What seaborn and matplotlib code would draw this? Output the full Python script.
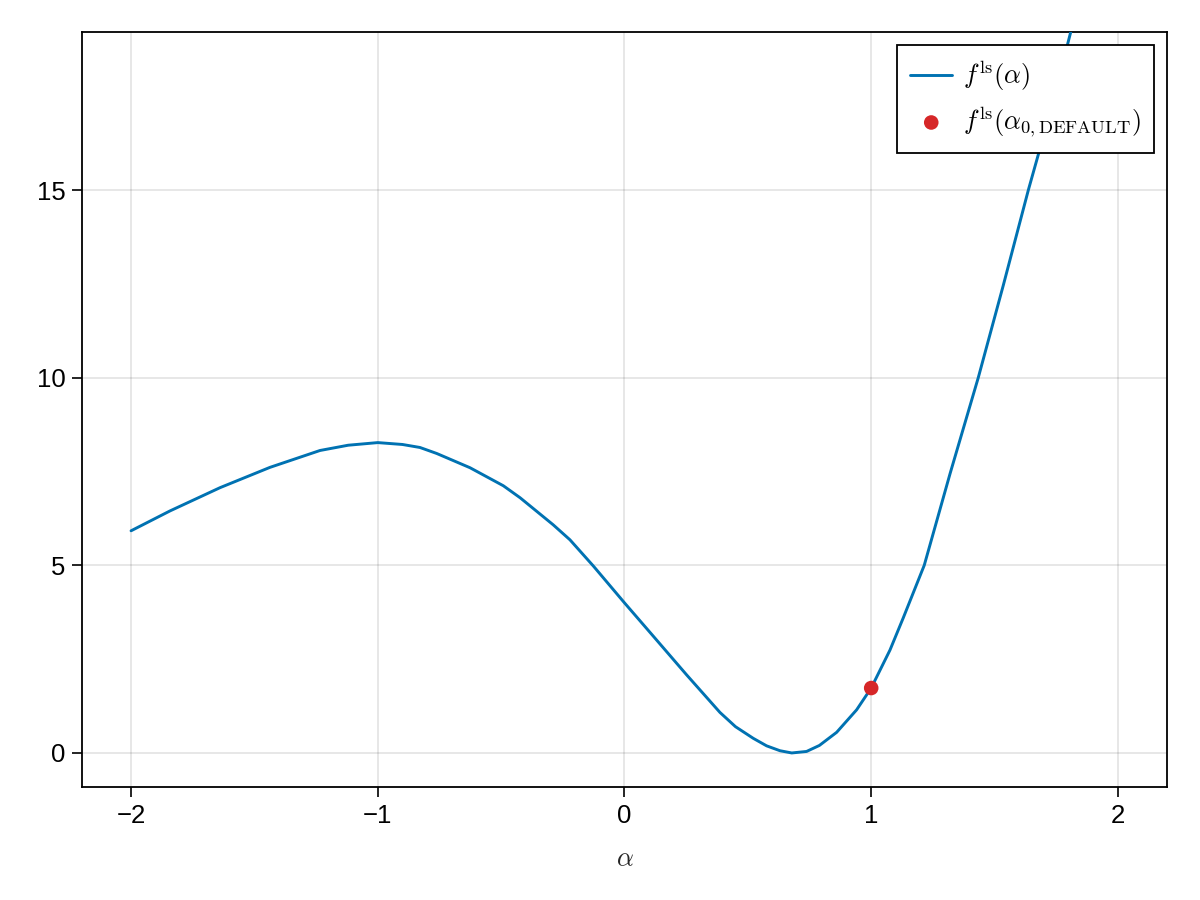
import matplotlib
matplotlib.use("Agg")
import matplotlib.pyplot as plt
import seaborn as sns
import pandas as pd

# values
alpha = [-2.0, -1.842, -1.639, -1.437, -1.234, -1.12, -1.0, -0.9, -0.829,
         -0.761, -0.626, -0.491, -0.423, -0.289, -0.221, -0.126, 0.0, 0.117,
         0.252, 0.387, 0.45, 0.522, 0.576, 0.63, 0.678, 0.738, 0.79, 0.86,
         0.941, 1.0, 1.076, 1.13, 1.215, 1.32, 1.434, 1.535, 1.637, 1.684,
         1.75, 1.82]
f_ls = [5.92, 6.45, 7.07, 7.61, 8.06, 8.20, 8.27, 8.22, 8.14,
        7.98, 7.60, 7.12, 6.80, 6.08, 5.68, 4.98, 4.0, 3.11,
        2.08, 1.08, 0.70, 0.39, 0.19, 0.06, 0.0, 0.04, 0.20, 0.55,
        1.15, 1.73, 2.74, 3.6, 5.0, 7.45, 10.0, 12.45, 15.0, 16.1,
        17.7, 19.5]
alpha0 = [1.0]
f_alpha0 = [1.73]

xticks = [-2, -1, 0, 1, 2]
yticks = [0, 5, 10, 15]

df = pd.DataFrame({"alpha": alpha, "f": f_ls})
df0 = pd.DataFrame({"alpha": alpha0, "f": f_alpha0})

sns.set_style("white")
plt.rcParams["font.family"] = ["Liberation Sans", "DejaVu Sans"]
plt.rcParams["mathtext.fontset"] = "cm"
plt.rcParams["text.color"] = "black"
plt.rcParams["xtick.color"] = "black"
plt.rcParams["ytick.color"] = "black"

fig = plt.figure(figsize=(12, 9), dpi=100)
ax = fig.add_axes([0.0683, 0.1256, 0.9042, 0.8388])

sns.lineplot(data=df, x="alpha", y="f", ax=ax, color="#0072b2", linewidth=2.1,
             label=r"$f^{\mathrm{ls}}(\alpha)$", zorder=3)
sns.scatterplot(data=df0, x="alpha", y="f", ax=ax, color="#d62728", s=110,
                edgecolor="none", label=r"$f^{\mathrm{ls}}(\alpha_{0,\mathrm{DEFAULT}})$",
                zorder=4)

ax.set_xlim(-2.199, 2.199)
ax.set_ylim(-0.906, 19.21)
ax.set_xticks(xticks)
ax.set_yticks(yticks)
ax.grid(True, color="black", alpha=0.12, linewidth=1.1)
ax.set_axisbelow(True)
for s in ax.spines.values():
    s.set_visible(True)
    s.set_color("black")
    s.set_linewidth(1.3)
ax.tick_params(axis="both", which="major", direction="out", length=7, width=1.2,
               labelsize=18.5, pad=5, bottom=True, left=True, color="black",
               labelcolor="black")
ax.set_xlabel(r"$\alpha$", fontsize=19, labelpad=14)
ax.set_ylabel("")

leg = ax.legend(loc="upper right", fontsize=19, frameon=True, fancybox=False,
                borderaxespad=0.5, handlelength=1.6, handletextpad=0.4,
                borderpad=0.5, labelspacing=0.45)
leg.get_frame().set_edgecolor("black")
leg.get_frame().set_linewidth(1.3)
leg.get_frame().set_alpha(1.0)

fig.savefig("out.png", dpi=100)
